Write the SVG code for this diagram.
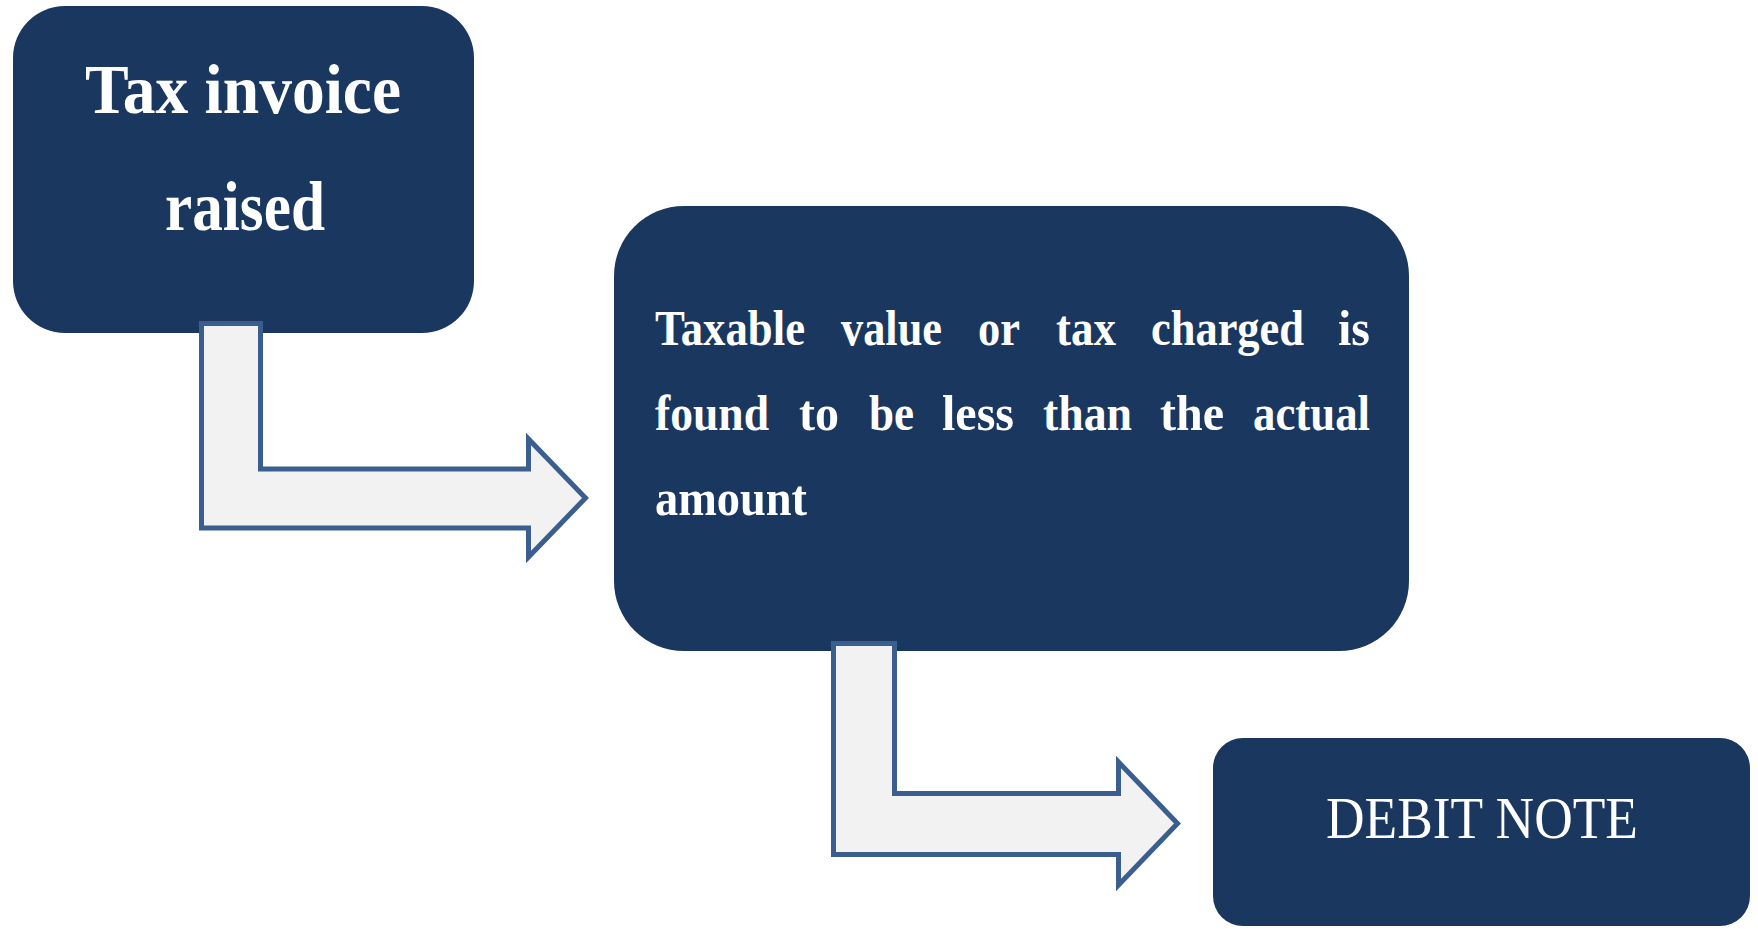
<svg xmlns="http://www.w3.org/2000/svg" width="1758" height="929" viewBox="0 0 1758 929">
<style>
.box{fill:#1A375F;}
.arrow{fill:#F2F2F2;stroke:#3A5F8E;stroke-width:5;stroke-linejoin:miter;}
.t1{font-family:"Liberation Serif",serif;font-weight:bold;font-size:70px;fill:#FFFFFF;}
.t2{font-family:"Liberation Serif",serif;font-weight:bold;font-size:50px;fill:#FFFFFF;}
.t3{font-family:"Liberation Serif",serif;font-size:60px;fill:#FFFFFF;}
</style>
<rect width="1758" height="929" fill="#FFFFFF"/>
<g id="node-tax-invoice">
<rect class="box" x="13" y="6" width="461" height="327" rx="52" ry="52"/>
<text class="t1" x="85" y="113" textLength="316" lengthAdjust="spacingAndGlyphs">Tax invoice</text>
<text class="t1" x="165" y="230" textLength="160" lengthAdjust="spacingAndGlyphs">raised</text>
</g>
<g id="node-taxable-value">
<rect class="box" x="614" y="206" width="795" height="445" rx="70" ry="70"/>
<g class="t2">
<text x="655" y="345" textLength="150" lengthAdjust="spacingAndGlyphs">Taxable</text>
<text x="841" y="345" textLength="101" lengthAdjust="spacingAndGlyphs">value</text>
<text x="978" y="345" textLength="42" lengthAdjust="spacingAndGlyphs">or</text>
<text x="1056" y="345" textLength="60" lengthAdjust="spacingAndGlyphs">tax</text>
<text x="1151" y="345" textLength="153" lengthAdjust="spacingAndGlyphs">charged</text>
<text x="1338" y="345" textLength="32" lengthAdjust="spacingAndGlyphs">is</text>
<text x="655" y="430" textLength="114" lengthAdjust="spacingAndGlyphs">found</text>
<text x="799" y="430" textLength="40" lengthAdjust="spacingAndGlyphs">to</text>
<text x="869" y="430" textLength="45" lengthAdjust="spacingAndGlyphs">be</text>
<text x="942" y="430" textLength="72" lengthAdjust="spacingAndGlyphs">less</text>
<text x="1043" y="430" textLength="89" lengthAdjust="spacingAndGlyphs">than</text>
<text x="1160" y="430" textLength="64" lengthAdjust="spacingAndGlyphs">the</text>
<text x="1253" y="430" textLength="117" lengthAdjust="spacingAndGlyphs">actual</text>
<text x="655" y="515" textLength="152" lengthAdjust="spacingAndGlyphs">amount</text>
</g>
</g>
<g id="node-debit-note">
<rect class="box" x="1213" y="738" width="537" height="188" rx="30" ry="30"/>
<text class="t3" x="1326" y="838" textLength="312" lengthAdjust="spacingAndGlyphs">DEBIT NOTE</text>
</g>
<g id="connectors">
<path class="arrow" d="M201.5,323.5 H260.5 V469 H528.5 V439 L585.5,498 L528.5,557 V528 H201.5 Z"/>
<path class="arrow" d="M833.5,643.5 H894.5 V793.5 H1118.5 V762 L1177.5,823.5 L1118.5,885 V854.5 H833.5 Z"/>
</g>
</svg>
